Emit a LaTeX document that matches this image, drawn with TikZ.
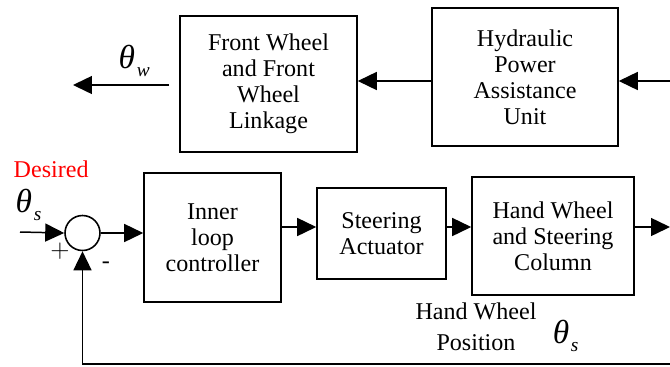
\documentclass[tikz,border=0pt]{standalone}
\usepackage{fontspec}
\setmainfont{Liberation Serif}
\usetikzlibrary{arrows.meta,calc}

% italic theta with a lowered subscript
\newcommand{\angsym}[1]{{\fontsize{19}{19}\selectfont\itshape θ}\kern1pt\raisebox{-5pt}{\fontsize{11}{11}\selectfont\itshape #1}}

\begin{document}
\begin{tikzpicture}[
		x=0.02cm, y=-0.02cm,
		line width=0.85pt,
		every node/.style={font=\rmfamily\fontsize{13.7}{14.8}\selectfont, align=center},
		blk/.style={rectangle, draw, line width=0.9pt, inner sep=0pt},
		arr/.style={-{Triangle[length=0.38cm, width=0.36cm]}}
	]
  \useasboundingbox (0,0) rectangle (670,366);
  % upper path: power unit to front wheels
  \node (hyd) [blk, minimum width=3.72cm, minimum height=2.76cm] at (525,77) {Hydraulic\\Power\\Assistance\\Unit};
  \node (fw) [blk, minimum width=3.54cm, minimum height=2.72cm] at (268.5,84) {Front Wheel\\and Front\\Wheel\\Linkage};
  \coordinate (hin) at (670,81);
  \coordinate (wout) at (73,85);
  \draw [arr] (hin) -- (hin -| hyd.east);
  \draw [arr] (hyd.west |- hin) -- (fw.east |- hin);
  \draw [arr] ($(fw.west |- wout)+(-10,0)$) -- (wout);
  \node (thw) [anchor=base west, inner sep=0pt] at (118,68) {\angsym{w}};
  % lower loop
  \node (sum) [circle, draw, line width=0.9pt, minimum size=0.7cm, inner sep=0pt] at (82.5,233) {};
  \node (inner) [blk, minimum width=2.74cm, minimum height=2.58cm] at (212.5,237.5) {Inner\\loop\\controller};
  \node (act) [blk, minimum width=2.58cm, minimum height=1.82cm] at (381.5,233.5) {Steering\\Actuator};
  \node (hw) [blk, minimum width=3.24cm, minimum height=2.36cm] at (553,236) {Hand Wheel\\and Steering\\Column};
  \coordinate (row) at (0,227);
  \coordinate (in) at (20,232);
  \coordinate (out) at (670,227);
  \coordinate (fb) at (670,364);
  \draw [arr] (in) -- (sum.west);
  \draw [arr] (sum.east) -- (sum.east -| inner.west);
  \draw [arr] (inner.east |- row) -- (act.west |- row);
  \draw [arr] (act.east |- row) -- (hw.west |- row);
  \draw [arr] (hw.east |- row) -- (out);
  \draw [arr] (fb) -- (sum.south |- fb) -- (sum.south);
  % labels
  \node (des) [text=red, anchor=base west, inner sep=0pt] at (13,177) {Desired};
  \node (ths) [anchor=base west, inner sep=0pt] at (15,212) {\angsym{s}};
  \node (plus) at (60,251) {$+$};
  \node (minus) at (106,265) {-};
  \node (hwp) at (476,327) {Hand Wheel\\[1mm]Position};
  \node (ths2) [anchor=base west, inner sep=0pt] at (552,343) {\angsym{s}};
\end{tikzpicture}
\end{document}
